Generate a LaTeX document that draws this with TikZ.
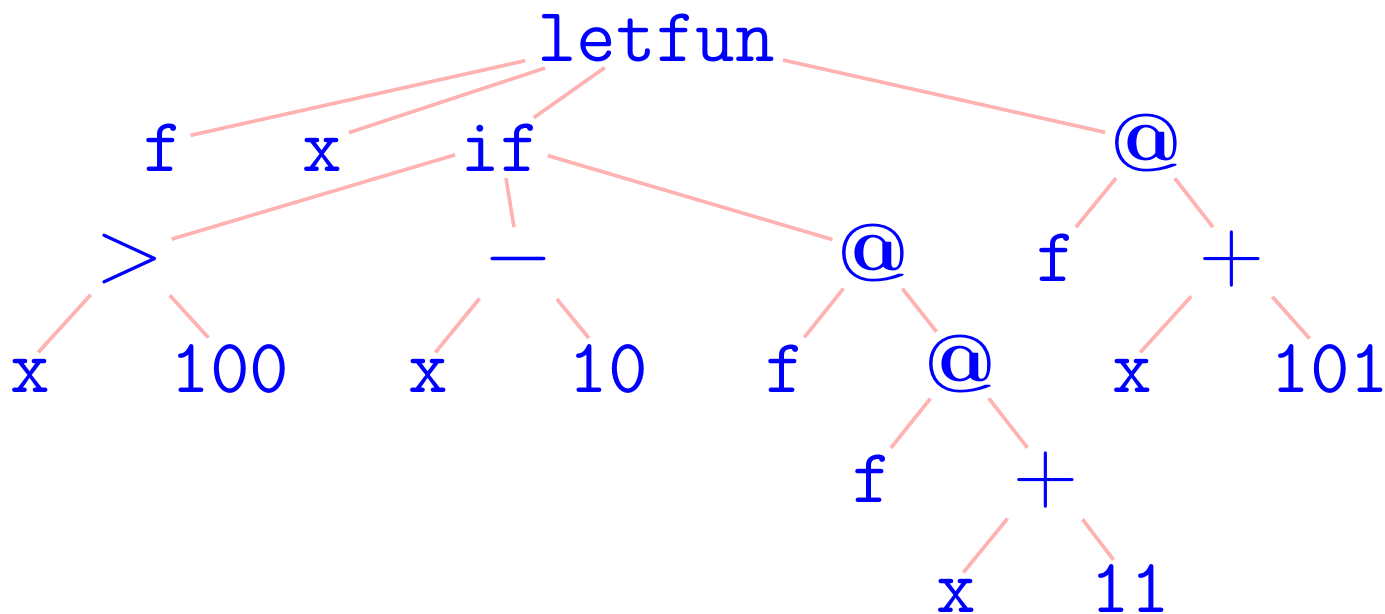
\RequirePackage{fix-cm}
\documentclass[tikz,border=0pt]{standalone}
\tikzset{
  lbl/.style={anchor=base, inner sep=0pt, text height=30.5pt, text depth=0pt, text=blue,
    font=\ttfamily\fontsize{38.5}{46}\selectfont},
  sym/.style={lbl, font=\rmfamily\fontsize{45}{54}\selectfont},
  atsym/.style={lbl, font=\rmfamily\bfseries\fontsize{41}{50}\selectfont},
  treeline/.style={draw=red!30, line width=1.8pt},
  sh/.style 2 args={shorten <=#1pt, shorten >=#2pt}
}
\begin{document}
\begin{tikzpicture}[x=0.5pt,y=-0.5pt]
\useasboundingbox (0,0) rectangle (1385,614);
% row 1
\node[lbl] (L) at (656,62) {letfun};
% row 2
\node[lbl] (f1) at (163,172) {f};
\node[lbl] (x1) at (322,172) {x};
\node[lbl] (IF) at (500,172) {if};
\node[atsym] (AR) at (1146,172) {@};
% row 3
\node[sym] (GT) at (130,282) {$>$};
\node[sym] (MI) at (518,282) {$-$};
\node[atsym] (AM) at (873,282) {@};
\node[lbl] (f2) at (1056,282) {f};
\node[sym] (PR) at (1232,282) {$+$};
% row 4
\node[lbl] (x2) at (30,392) {x};
\node[lbl] (n100) at (230,392) {100};
\node[lbl] (x3) at (428,392) {x};
\node[lbl] (n10) at (608,392) {10};
\node[lbl] (f3) at (785,392) {f};
\node[atsym] (A2) at (960,392) {@};
\node[lbl] (x4) at (1132,392) {x};
\node[lbl] (n101) at (1330,392) {101};
% row 5
\node[lbl] (f4) at (872,502) {f};
\node[sym] (P2) at (1046,502) {$+$};
% row 6
\node[lbl] (x5) at (956,612) {x};
\node[lbl] (n11) at (1130,612) {11};
% edges
\draw[treeline, sh={67.05}{14.15}] (L.center) -- (f1.center);
\draw[treeline, sh={58.4}{14.15}] (L.center) -- (x1.center);
\draw[treeline, sh={31.35}{20.65}] (L.center) -- (IF.center);
\draw[treeline, sh={65.1}{20.95}] (L.center) -- (AR.center);
\draw[treeline, sh={23.5}{21.75}] (IF.center) -- (GT.center);
\draw[treeline, sh={18.6}{12.35}] (IF.center) -- (MI.center);
\draw[treeline, sh={24.95}{21.15}] (IF.center) -- (AM.center);
\draw[treeline, sh={29.25}{6.2}] (GT.center) -- (x2.center);
\draw[treeline, sh={29.6}{16.1}] (GT.center) -- (n100.center);
\draw[treeline, sh={30.4}{5.85}] (MI.center) -- (x3.center);
\draw[treeline, sh={30.75}{15.1}] (MI.center) -- (n10.center);
\draw[treeline, sh={23.7}{15.45}] (AM.center) -- (f3.center);
\draw[treeline, sh={23.7}{19}] (AM.center) -- (A2.center);
\draw[treeline, sh={23.7}{15.75}] (AR.center) -- (f2.center);
\draw[treeline, sh={23.4}{15.5}] (AR.center) -- (PR.center);
\draw[treeline, sh={30.3}{6.2}] (PR.center) -- (x4.center);
\draw[treeline, sh={30.3}{15.45}] (PR.center) -- (n101.center);
\draw[treeline, sh={23.7}{15.05}] (A2.center) -- (f4.center);
\draw[treeline, sh={23.4}{15.1}] (A2.center) -- (P2.center);
\draw[treeline, sh={30.4}{5.85}] (P2.center) -- (x5.center);
\draw[treeline, sh={30.1}{13.65}] (P2.center) -- (n11.center);
\end{tikzpicture}
\end{document}
